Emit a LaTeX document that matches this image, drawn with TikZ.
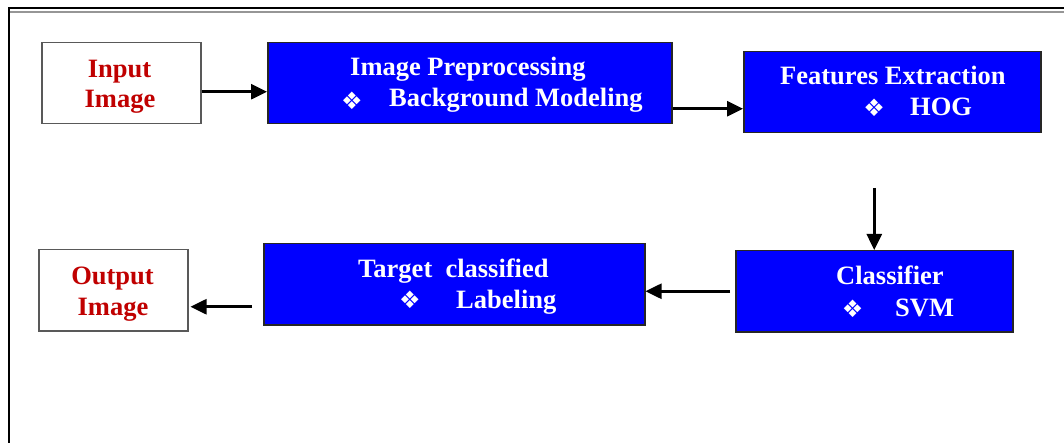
\documentclass[tikz,border=0pt]{standalone}
\usepackage{fontspec}
\setmainfont{Liberation Serif}
\newfontfamily\symfont{DejaVu Sans}
\usetikzlibrary{arrows.meta,calc}
\definecolor{boxblue}{RGB}{0,0,255}
\definecolor{txtred}{RGB}{192,0,0}
\definecolor{framegray}{RGB}{150,150,150}
\tikzset{
  whitebox/.style={draw=black!65, line width=1.5pt, fill=white, anchor=north west, inner sep=0pt},
  bluebox/.style={draw=black!85, line width=1.5pt, fill=boxblue, anchor=north west, inner sep=0pt},
  redlbl/.style={text=txtred, font=\fontsize{26.5}{30}\selectfont\bfseries, inner sep=0pt, anchor=base},
  wlbl/.style={text=white, font=\fontsize{26.5}{30}\selectfont\bfseries, inner sep=0pt, anchor=base west},
  bullet/.style={text=white, font=\symfont\fontsize{24}{26}\selectfont, inner sep=0pt, anchor=center},
  arr/.style={line width=2.6pt, -{Triangle[length=16pt,width=15pt]}}
}
\begin{document}
\begin{tikzpicture}[x=1pt,y=-1pt]
\useasboundingbox (0,0) rectangle (1064,443);
% frame
\draw[black, line width=1.8pt] (8.7,443) -- (8.7,7.8) -- (1064,7.8);
\draw[framegray, line width=2pt] (10,11.8) -- (1064,11.8);
% boxes
\node[whitebox, minimum width=159pt, minimum height=81pt] (in) at (41,42) {};
\node[bluebox, minimum width=404pt, minimum height=81pt] (pre) at (267,42) {};
\node[bluebox, minimum width=297pt, minimum height=81pt] (fe) at (743,51) {};
\node[bluebox, minimum width=277pt, minimum height=81pt] (cl) at (735,250) {};
\node[bluebox, minimum width=381pt, minimum height=81pt] (tg) at (263,243) {};
\node[whitebox, minimum width=149pt, minimum height=81pt] (out) at (38,249) {};
% texts
\node[redlbl] (inA) at (119.5,77.7) {Input};
\node[redlbl] (inB) at (120,107.3) {Image};
\node[wlbl] (preA) at (350,76) {Image Preprocessing};
\node[bullet] (preS) at (352,101) {❖};
\node[wlbl] (preB) at (389,107) {Background Modeling};
\node[wlbl] (feA) at (780,85) {Features Extraction};
\node[bullet] (feS) at (874,108) {❖};
\node[wlbl] (feB) at (910,116) {HOG};
\node[wlbl] (clA) at (836,284) {Classifier};
\node[bullet] (clS) at (852.5,309) {❖};
\node[wlbl] (clB) at (895,316.7) {SVM};
\node[wlbl] (tgA) at (358,277) {Target\ \ classified};
\node[bullet] (tgS) at (410,300) {❖};
\node[wlbl] (tgB) at (456,308) {Labeling};
\node[redlbl] (outA) at (112.5,284) {Output};
\node[redlbl] (outB) at (113,315) {Image};
% connectors
\coordinate (a1) at ($(in.east)+(0,8.5)$);
\draw[arr] (a1) -- (a1 -| pre.west);
\coordinate (a2) at ($(pre.east)+(0,25.5)$);
\draw[arr] (a2) -- (a2 -| fe.west);
\coordinate (a3) at ($(cl.north)+(0,-62)$);
\draw[arr] (a3) -- (cl.north);
\coordinate (a4) at ($(cl.west)+(-5,0)$);
\draw[arr] (a4) -- (a4 -| tg.east);
\coordinate (a5) at ($(tg.west)+(-11,22.5)$);
\draw[arr] (a5) -- ($(a5 -| out.east)+(2,0)$);
\end{tikzpicture}
\end{document}
